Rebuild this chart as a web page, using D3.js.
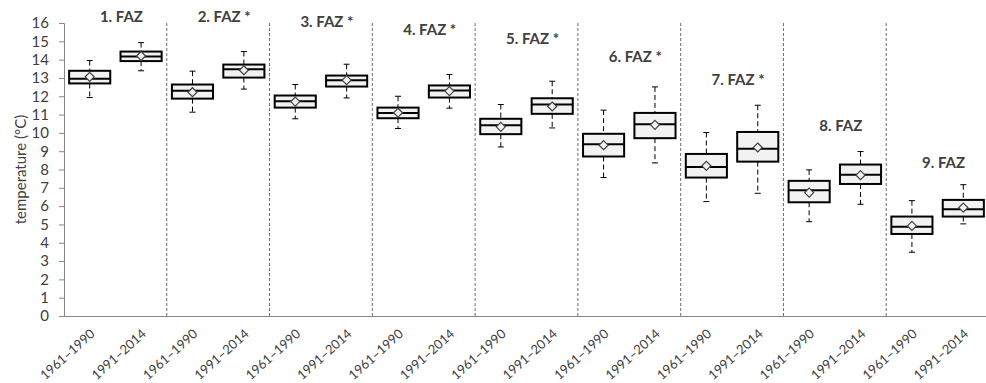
<!DOCTYPE html>
<html>
<head>
    <meta charset="UTF-8">
    <title>Temperature by FAZ</title>
    <script type="text/javascript" src="https://cdn.jsdelivr.net/npm/d3@7/dist/d3.min.js"></script>
    <style>
        body { margin: 0; background: #fff; }
        svg text { font-family: Lato, "Liberation Sans", sans-serif; fill: #404040; }
    </style>
</head>
<body>
<svg id="chart" width="986" height="383"></svg>
<script type="text/javascript">
    // two periods per zone
    var periods = ["1961–1990", "1991–2014"];
    var zones = ["1. FAZ", "2. FAZ *", "3. FAZ *", "4. FAZ *", "5. FAZ *",
                 "6. FAZ *", "7. FAZ *", "8. FAZ", "9. FAZ"];
    // where each zone title sits (in °C)
    var zoneLabelAt = [16.34, 16.34, 16.08, 15.63, 15.12, 14.17, 12.9, 10.38, 8.34];

    // box values, two per zone (1961–1990, 1991–2014)
    var whiskerHigh = [13.95, 14.93, 13.37, 14.44, 12.64, 13.75, 12.0, 13.19, 11.55, 12.82,
                       11.24, 12.51, 10.02, 11.51, 7.98, 8.98, 6.30, 7.17];
    var q3 = [13.39, 14.44, 12.64, 13.73, 12.04, 13.13, 11.38, 12.59, 10.77, 11.89,
              9.95, 11.09, 8.85, 10.05, 7.38, 8.27, 5.43, 6.34];
    var median = [12.95, 14.17, 12.30, 13.48, 11.73, 12.88, 11.09, 12.31, 10.42, 11.55,
                  9.38, 10.47, 8.14, 9.13, 6.87, 7.72, 4.88, 5.83];
    var q1 = [12.70, 13.92, 11.87, 13.02, 11.38, 12.53, 10.80, 11.93, 9.93, 11.04,
              8.71, 9.71, 7.56, 8.43, 6.21, 7.21, 4.48, 5.43];
    var whiskerLow = [11.93, 13.39, 11.13, 12.39, 10.77, 11.91, 10.24, 11.35, 9.23, 10.27,
                      7.56, 8.36, 6.25, 6.70, 5.15, 6.10, 3.48, 5.03];
    var mean = [13.06, 14.2, 12.22, 13.42, 11.71, 12.88, 11.1, 12.28, 10.33, 11.44,
                9.33, 10.44, 8.2, 9.2, 6.74, 7.69, 4.92, 5.92];

    var yTicks = d3.range(0, 17);

    var boxes = [];
    zones.forEach(function (z, zi) {
        periods.forEach(function (p, pi) {
            var i = zi * 2 + pi;
            boxes.push({
                key: z + "|" + p, period: p,
                lo: whiskerLow[i], q1: q1[i], med: median[i], q3: q3[i],
                hi: whiskerHigh[i], mean: mean[i]
            });
        });
    });

    // plot area (window.top is reserved, hence the prefix)
    var plotLeft = 64, plotRight = 989, plotTop = 23, plotBottom = 316;
    var svg = d3.select("#chart");

    var x = d3.scaleBand()
            .domain(boxes.map(function (b) { return b.key; }))
            .range([plotLeft, plotRight]);
    var xZone = d3.scaleBand().domain(zones).range([plotLeft, plotRight]);
    var y = d3.scaleLinear().domain([0, 16]).range([plotBottom, plotTop]);

    // y axis
    var yAxis = svg.append("g")
            .attr("transform", "translate(" + plotLeft + ",0)")
            .call(d3.axisLeft(y).tickValues(yTicks).tickSize(5).tickPadding(10)
                    .tickFormat(d3.format("d")));
    yAxis.select(".domain").attr("stroke", "#868686");
    yAxis.selectAll(".tick line").attr("stroke", "#868686");
    yAxis.selectAll(".tick text").style("font-size", "15px").attr("fill", "#404040");

    // x axis
    var xAxis = svg.append("g")
            .attr("transform", "translate(0," + plotBottom + ")")
            .call(d3.axisBottom(x).tickSize(0)
                    .tickFormat(function (k) { return k.split("|")[1]; }));
    xAxis.select(".domain").attr("stroke", "#868686");
    xAxis.selectAll(".tick text")
            .style("font-size", "13px")
            .attr("fill", "#404040")
            .attr("text-anchor", "end")
            .attr("dy", null)
            .attr("y", 0)
            .attr("transform", "translate(6,19) rotate(-42)");

    // zone dividers
    svg.append("g").selectAll("line")
            .data(zones.slice(1))
            .enter().append("line")
            .attr("x1", function (z) { return xZone(z); })
            .attr("x2", function (z) { return xZone(z); })
            .attr("y1", y(16))
            .attr("y2", plotBottom)
            .attr("stroke", "#6d6d6d")
            .attr("stroke-width", 1)
            .attr("stroke-dasharray", "3,2");

    // y title
    svg.append("text")
            .attr("transform", "translate(26," + (plotTop + plotBottom) / 2 + ") rotate(-90)")
            .attr("text-anchor", "middle")
            .style("font-size", "15px")
            .attr("fill", "#000")
            .text("temperature (°C)");

    var bw = x.bandwidth() * 0.8;
    var g = svg.append("g").selectAll("g")
            .data(boxes)
            .enter().append("g")
            .attr("transform", function (b) { return "translate(" + (x(b.key) + x.bandwidth() / 2) + ",0)"; });

    // whiskers
    g.append("line")
            .attr("y1", function (b) { return y(b.hi); })
            .attr("y2", function (b) { return y(b.q3); })
            .attr("stroke", "#000").attr("stroke-dasharray", "5,3");
    g.append("line")
            .attr("y1", function (b) { return y(b.q1); })
            .attr("y2", function (b) { return y(b.lo); })
            .attr("stroke", "#000").attr("stroke-dasharray", "5,3");
    g.append("line")
            .attr("x1", -3).attr("x2", 3)
            .attr("y1", function (b) { return y(b.hi); })
            .attr("y2", function (b) { return y(b.hi); })
            .attr("stroke", "#000");
    g.append("line")
            .attr("x1", -3).attr("x2", 3)
            .attr("y1", function (b) { return y(b.lo); })
            .attr("y2", function (b) { return y(b.lo); })
            .attr("stroke", "#000");

    // box
    g.append("rect")
            .attr("x", -bw / 2)
            .attr("width", bw)
            .attr("y", function (b) { return y(b.q3); })
            .attr("height", function (b) { return y(b.q1) - y(b.q3); })
            .attr("fill", "#f2f2f2")
            .attr("stroke", "#000")
            .attr("stroke-width", 2);
    g.append("line")
            .attr("x1", -bw / 2).attr("x2", bw / 2)
            .attr("y1", function (b) { return y(b.med); })
            .attr("y2", function (b) { return y(b.med); })
            .attr("stroke", "#000")
            .attr("stroke-width", 2);

    // mean marker
    g.append("path")
            .attr("d", function (b) {
                var cy = y(b.mean);
                return "M0," + (cy - 4.5) + "L4.5," + cy + "L0," + (cy + 4.5) + "L-4.5," + cy + "Z";
            })
            .attr("fill", "#f2f2f2")
            .attr("stroke", "#404040")
            .attr("stroke-width", 1.2);

    // zone titles
    svg.append("g").selectAll("text")
            .data(zones)
            .enter().append("text")
            .attr("x", function (z) { return xZone(z) + xZone.bandwidth() / 2 + 6; })
            .attr("y", function (z, i) { return y(zoneLabelAt[i]) + 5; })
            .attr("text-anchor", "middle")
            .style("font-size", "15px")
            .style("font-weight", "bold")
            .attr("fill", "#000")
            .text(function (z) { return z; });
</script>
</body>
</html>
